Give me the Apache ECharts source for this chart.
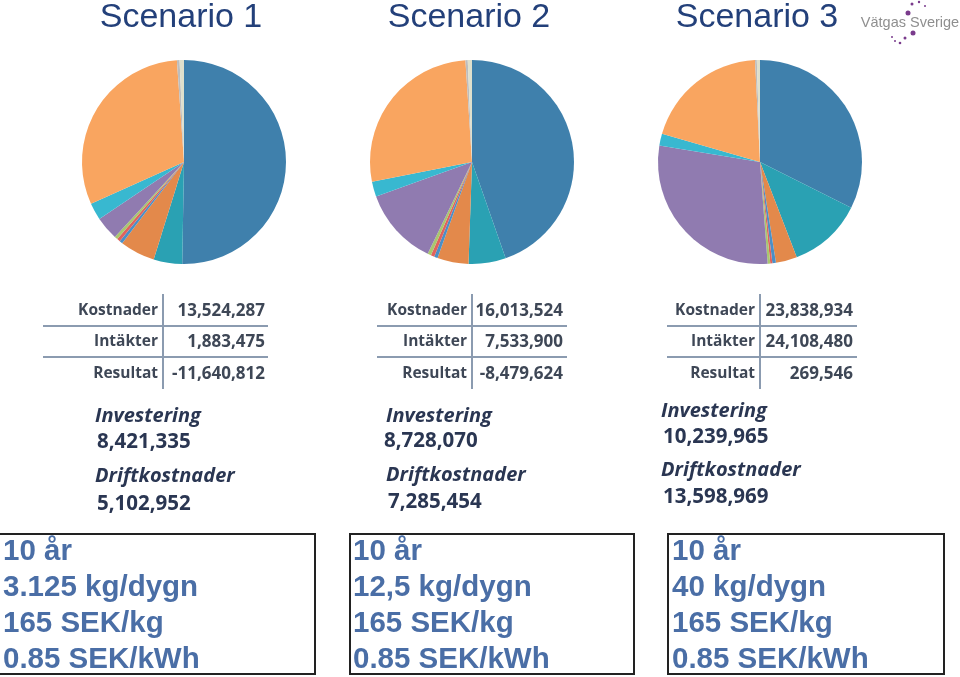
<!DOCTYPE html>
<html><head><meta charset="utf-8">
<script src="https://cdn.jsdelivr.net/npm/echarts@6/dist/echarts.min.js"></script>
<style>html,body{margin:0;padding:0;background:#fff}#c{width:960px;height:677px}</style>
</head><body><div id="c"></div>
<script>
// Pie segments (clockwise from 12 o'clock), shares estimated in degrees of the pie
const segmentNames = ['Del 1','Del 2','Del 3','Del 4','Del 5','Del 6','Del 7','Del 8','Del 9','Del 10','Del 11'];
const segmentColors = ['#3f80ac','#2aa1b3','#e3894b','#4b8fc6','#e0625c','#a9c76e','#907bb0','#38b8d0','#f9a560','#bdbdbd','#dfe0cc'];
const scenario1 = [181, 16.3, 20, 1.8, 1.8, 1.8, 13.4, 9.7, 110.2, 1.5, 2.5];
const scenario2 = [160.7, 21.2, 17.8, 2, 2, 2, 44.4, 8.6, 97.5, 1.3, 2.4];
const scenario3 = [116.6, 42.3, 12.1, 2, 1.2, 1.5, 103.6, 6.8, 71.1, 1, 1.8];

const titles = ['Scenario 1','Scenario 2','Scenario 3'];
const rowLabels = ['Kostnader','Intäkter','Resultat'];
const kostnader = ['13,524,287','16,013,524','23,838,934'];
const intakter = ['1,883,475','7,533,900','24,108,480'];
const resultat = ['-11,640,812','-8,479,624','269,546'];
const investering = ['8,421,335','8,728,070','10,239,965'];
const driftkostnader = ['5,102,952','7,285,454','13,598,969'];
const boxLines = [
  ['10 år','3.125 kg/dygn','165 SEK/kg','0.85 SEK/kWh'],
  ['10 år','12,5 kg/dygn','165 SEK/kg','0.85 SEK/kWh'],
  ['10 år','40 kg/dygn','165 SEK/kg','0.85 SEK/kWh']
];

const pies = [scenario1, scenario2, scenario3];
const pieCenters = [[184,162],[472,162],[760,162]];
const titleX = [181,469,757];
const tableLine = [163,472,760];
const tableL = [43,377,667];
const tableR = [268,567,857];
const valR = [265,563,853];
const invX = [[95,97,95,97],[386,384,386,388],[661,663,661,663]];
const invY = [[416,442,476,504],[416,441,475,502],[411,437,470,497]];
const boxRect = [[-2,534,317,140],[350,534,284,140],[668,534,276,140]];

const chart = echarts.init(document.getElementById('c'));
const series = pies.map((vals, i) => ({
  type: 'pie', center: pieCenters[i], radius: [0, 102], startAngle: 90, clockwise: true,
  label: {show: false}, labelLine: {show: false}, silent: true, animation: false,
  itemStyle: {borderWidth: 0},
  data: vals.map((v, k) => ({name: segmentNames[k], value: v, itemStyle: {color: segmentColors[k]}}))
}));

const g = [];
const tFont = '"Open Sans", sans-serif';
for (let i = 0; i < 3; i++) {
  g.push({type:'text', style:{x:titleX[i], y:18, text:titles[i], font:'34px "Liberation Sans", Arial, sans-serif', fill:'#23407a', textAlign:'center', textVerticalAlign:'middle'}});
  g.push({type:'line', shape:{x1:tableLine[i], y1:294, x2:tableLine[i], y2:389}, style:{stroke:'#8b9bb0', lineWidth:2}});
  g.push({type:'line', shape:{x1:tableL[i], y1:326, x2:tableR[i], y2:326}, style:{stroke:'#8b9bb0', lineWidth:2}});
  g.push({type:'line', shape:{x1:tableL[i], y1:357, x2:tableR[i], y2:357}, style:{stroke:'#8b9bb0', lineWidth:2}});
  const vals = [kostnader[i], intakter[i], resultat[i]];
  const ys = [311, 342, 374];
  for (let r = 0; r < 3; r++) {
    g.push({type:'text', style:{x:tableLine[i]-5, y:ys[r], text:rowLabels[r], font:'bold 15.5px '+tFont, fill:'#3e4756', textAlign:'right', textVerticalAlign:'middle'}});
    g.push({type:'text', style:{x:valR[i], y:ys[r], text:vals[r], font:'bold 17px '+tFont, fill:'#3e4756', textAlign:'right', textVerticalAlign:'middle'}});
  }
  g.push({type:'text', style:{x:invX[i][0], y:invY[i][0], text:'Investering', font:'italic bold 20px '+tFont, fill:'#2a3652', textAlign:'left', textVerticalAlign:'middle'}});
  g.push({type:'text', style:{x:invX[i][1], y:invY[i][1], text:investering[i], font:'bold 20.5px '+tFont, fill:'#2a3652', textAlign:'left', textVerticalAlign:'middle'}});
  g.push({type:'text', style:{x:invX[i][2], y:invY[i][2], text:'Driftkostnader', font:'italic bold 20px '+tFont, fill:'#2a3652', textAlign:'left', textVerticalAlign:'middle'}});
  g.push({type:'text', style:{x:invX[i][3], y:invY[i][3], text:driftkostnader[i], font:'bold 20.5px '+tFont, fill:'#2a3652', textAlign:'left', textVerticalAlign:'middle'}});
  const b = boxRect[i];
  g.push({type:'rect', shape:{x:b[0], y:b[1], width:b[2], height:b[3]}, style:{fill:'none', stroke:'#222', lineWidth:2}});
  const lx = [3,353,672][i];
  boxLines[i].forEach((t, k) => {
    g.push({type:'text', style:{x:lx, y:552+k*36, text:t, font:'bold 29.5px "Liberation Sans", Arial, sans-serif', fill:'#4a6ea6', textAlign:'left', textVerticalAlign:'middle'}});
  });
}
// logo
g.push({type:'text', style:{x:910, y:23, text:'Vätgas Sverige', font:'14.5px "Liberation Sans", Arial, sans-serif', fill:'#8f8f8f', textAlign:'center', textVerticalAlign:'middle'}});
[[912,4,1.5],[919,2,1.2],[925,6,1],[908,13,2.5],[913,33,2.5],[905,38,1.5],[900,43,1.3],[892,37,1],[895,41,1]].forEach(d => {
  g.push({type:'circle', shape:{cx:d[0], cy:d[1], r:d[2]}, style:{fill:'#7a3b8c'}});
});

chart.setOption({animation:false, series: series, graphic: g});
</script></body></html>
